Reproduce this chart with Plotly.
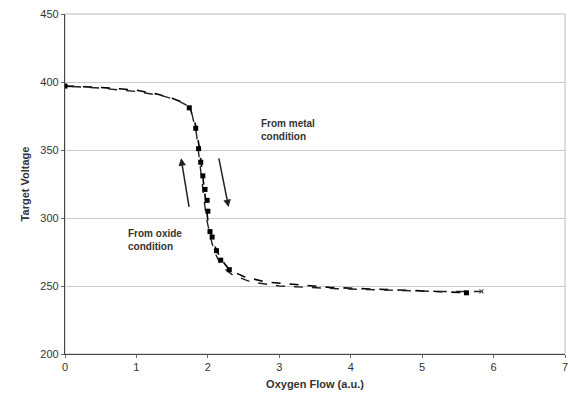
import plotly.graph_objects as go

# Branch followed when starting from metal condition (increasing flow)
metal_x = [0.0, 0.5, 1.0, 1.3, 1.5, 1.65, 1.75, 1.83, 1.88, 1.92, 1.95, 1.98, 2.0, 2.04, 2.1, 2.18, 2.3, 2.5, 2.8, 3.2, 3.7, 4.2, 4.8, 5.2, 5.62]
metal_y = [397, 396, 394, 391, 388, 385, 381, 368, 352, 336, 322, 308, 298, 289, 279, 270, 262, 257, 253, 251, 249, 248, 247, 246, 245]

# Branch followed when starting from oxide condition (decreasing flow)
oxide_x = [5.85, 5.2, 4.5, 3.8, 3.0, 2.6, 2.35, 2.2, 2.12, 2.06, 2.02, 1.98, 1.95, 1.92, 1.88, 1.84, 1.78, 1.7, 1.55, 1.35, 1.0, 0.5, 0.0]
oxide_y = [246, 246, 247, 248, 250, 253, 258, 264, 272, 281, 290, 300, 312, 326, 345, 362, 376, 383, 387, 390, 393, 395.5, 397]

# Measured points (markers)
meas_x = [0.0, 1.74, 1.83, 1.87, 1.9, 1.93, 1.96, 1.99, 2.0, 2.03, 2.06, 2.12, 2.18, 2.3, 5.62]
meas_y = [397, 381, 366, 351, 341, 331, 321, 313, 305, 290, 286, 276, 269, 262, 245]

# Last oxide-branch point (small mark)
end_x = [5.83]
end_y = [246]

y_ticks = [200, 250, 300, 350, 400, 450]
x_ticks = [0, 1, 2, 3, 4, 5, 6, 7]

fig = go.Figure()
fig.add_trace(go.Scatter(x=metal_x, y=metal_y, mode="lines",
                         line=dict(color="black", width=1.6, dash="dash"), showlegend=False))
fig.add_trace(go.Scatter(x=oxide_x, y=oxide_y, mode="lines",
                         line=dict(color="#222", width=1.4, dash="dash"), showlegend=False))
fig.add_trace(go.Scatter(x=meas_x, y=meas_y, mode="markers",
                         marker=dict(color="black", size=5, symbol="square"), showlegend=False))
fig.add_trace(go.Scatter(x=end_x, y=end_y, mode="markers",
                         marker=dict(color="#555", size=4, symbol="x-thin", line=dict(width=1.2, color="#555")),
                         showlegend=False))

font = "Liberation Sans, Arial, sans-serif"
fig.add_annotation(x=2.29, y=308, ax=2.15, ay=345, xref="x", yref="y", axref="x", ayref="y",
                   text="", showarrow=True, arrowhead=2, arrowsize=1, arrowwidth=1.5, arrowcolor="#222")
fig.add_annotation(x=1.625, y=344, ax=1.74, ay=307, xref="x", yref="y", axref="x", ayref="y",
                   text="", showarrow=True, arrowhead=2, arrowsize=1, arrowwidth=1.5, arrowcolor="#222")
fig.add_annotation(x=2.72, y=365, xref="x", yref="y", text="<b>From metal<br>condition</b>",
                   showarrow=False, xanchor="left", align="left",
                   font=dict(family=font, size=10, color="#333"))
fig.add_annotation(x=0.86, y=284, xref="x", yref="y", text="<b>From oxide<br>condition</b>",
                   showarrow=False, xanchor="left", align="left",
                   font=dict(family=font, size=10, color="#333"))

fig.add_shape(type="rect", xref="paper", yref="paper", x0=0, y0=0, x1=1, y1=1,
              line=dict(color="#bbb", width=1), layer="below")

fig.update_layout(
    width=572, height=410,
    margin=dict(l=65, r=4, t=14, b=56),
    plot_bgcolor="white", paper_bgcolor="white",
    font=dict(family=font, size=11, color="#333"),
    xaxis=dict(range=[0, 7], tickvals=x_ticks, showgrid=False, zeroline=False,
               showline=True, linecolor="#444", linewidth=1.2, ticks="outside",
               ticklen=3, tickcolor="#666",
               title=dict(text="<b>Oxygen Flow (a.u.)</b>", font=dict(size=11), standoff=8)),
    yaxis=dict(range=[200, 450], tickvals=y_ticks, showgrid=True, gridcolor="#c8c8c8",
               gridwidth=1, zeroline=False, showline=True, linecolor="#444", linewidth=1.2,
               ticks="outside", ticklen=3, tickcolor="#666",
               title=dict(text="<b>Target Voltage</b>", font=dict(size=11), standoff=8)),
)

fig.write_html("out.html")
